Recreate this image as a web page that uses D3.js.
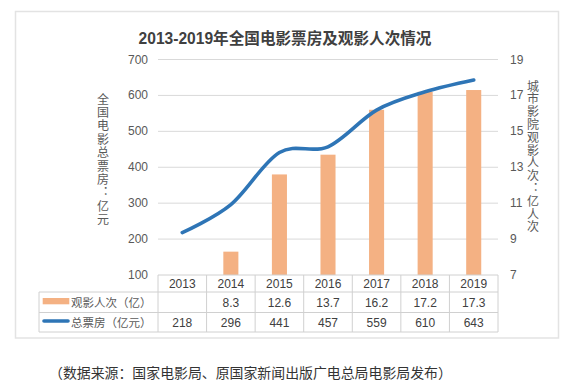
<!DOCTYPE html>
<html><head><meta charset="utf-8">
<script src="https://cdn.jsdelivr.net/npm/d3@7"></script>
<style>
html,body{margin:0;padding:0;background:#fff;}
svg{display:block;font-family:"Liberation Sans",Arial,"Noto Sans CJK SC",sans-serif;}
</style></head>
<body>
<svg id="c" width="575" height="388"></svg>
<script>
const title = "2013-2019年全国电影票房及观影人次情况";
const years = ["2013","2014","2015","2016","2017","2018","2019"];
const attendance = [null, 8.3, 12.6, 13.7, 16.2, 17.2, 17.3];   // 观影人次（亿）
const boxOffice = [218, 296, 441, 457, 559, 610, 643];          // 总票房（亿元）
const leftTicks = [100, 200, 300, 400, 500, 600, 700];
const rightTicks = [7, 9, 11, 13, 15, 17, 19];
const leftTitle = "全国电影总票房：亿元";
const rightTitle = "城市影院观影人次：亿人次";
const seriesNames = ["观影人次（亿）", "总票房（亿元）"];
const source = "（数据来源：国家电影局、原国家新闻出版广电总局电影局发布）";

const svg = d3.select("#c");
const X0 = 158, X1 = 498, YT = 59.5, YB = 275;
const rowY = [275, 292, 312.5, 332];
const tableLeft = 39;
const gridC = "#d9d9d9", textC = "#595959", darkC = "#404040";
const barC = "#F4B183", lineC = "#2E75B6";

// frame
svg.append("rect").attr("x", 15.5).attr("y", 11.5).attr("width", 543).attr("height", 326.5)
  .attr("fill", "#fff").attr("stroke", "#e3e3e3").attr("stroke-width", 1.5);

svg.append("text").attr("x", 285).attr("y", 38).attr("text-anchor", "middle")
  .attr("dominant-baseline", "central").attr("font-size", 15.6).attr("font-weight", "bold")
  .attr("fill", darkC).text(title);

const x = d3.scaleBand().domain(years).range([X0, X1]);
const xBar = d3.scaleBand().domain(years).range([X0, X1]).paddingInner(0.69).paddingOuter(0.345);
const yL = d3.scaleLinear().domain([100, 700]).range([YB, YT]);
const yR = d3.scaleLinear().domain([7, 19]).range([YB, YT]);

// gridlines
svg.append("g").selectAll("line").data(leftTicks.slice(1)).join("line")
  .attr("x1", X0).attr("x2", X1).attr("y1", d => yL(d)).attr("y2", d => yL(d))
  .attr("stroke", gridC).attr("stroke-width", 1);

// left axis labels
svg.append("g").selectAll("text").data(leftTicks).join("text")
  .attr("x", 148).attr("y", d => yL(d)).attr("text-anchor", "end").attr("dominant-baseline", "central")
  .attr("font-size", 12).attr("fill", textC).text(d => d);
// right axis labels
svg.append("g").selectAll("text").data(rightTicks).join("text")
  .attr("x", 510).attr("y", d => yR(d)).attr("text-anchor", "start").attr("dominant-baseline", "central")
  .attr("font-size", 12).attr("fill", textC).text(d => d);

// axis titles (vertical)
svg.append("text").attr("x", 103).attr("y", 93).style("writing-mode", "vertical-rl")
  .attr("font-size", 12).attr("letter-spacing", 1.4).attr("fill", textC)
  .attr("font-family", "'Noto Sans CJK SC',sans-serif").text(leftTitle);
svg.append("text").attr("x", 533).attr("y", 80).style("writing-mode", "vertical-rl")
  .attr("font-size", 12).attr("letter-spacing", 0.8).attr("fill", textC)
  .attr("font-family", "'Noto Sans CJK SC',sans-serif").text(rightTitle);

// bars
const barData = years.map((y, i) => ({y, v: attendance[i]})).filter(d => d.v != null);
svg.append("g").selectAll("rect").data(barData).join("rect")
  .attr("x", d => xBar(d.y)).attr("width", xBar.bandwidth())
  .attr("y", d => yR(d.v)).attr("height", d => yR(7) - yR(d.v)).attr("fill", barC);

// line
const line = d3.line().x((d, i) => x(years[i]) + x.bandwidth() / 2).y(d => yL(d))
  .curve(d3.curveCardinal.tension(0));
svg.append("path").datum(boxOffice).attr("d", line).attr("fill", "none")
  .attr("stroke", lineC).attr("stroke-width", 3.6).attr("stroke-linecap", "round");

// table
const tg = svg.append("g").attr("stroke", "#d0d0d0").attr("stroke-width", 1);
tg.append("line").attr("x1", X0).attr("x2", X1).attr("y1", rowY[0]).attr("y2", rowY[0]);
rowY.slice(1).forEach(yy => tg.append("line").attr("x1", tableLeft).attr("x2", X1).attr("y1", yy).attr("y2", yy));
tg.append("line").attr("x1", tableLeft).attr("x2", tableLeft).attr("y1", rowY[1]).attr("y2", rowY[3]);
const bounds = years.map(y => x(y)).concat([X1]);
tg.selectAll("line.v").data(bounds).join("line").attr("class", "v")
  .attr("x1", d => d).attr("x2", d => d).attr("y1", rowY[0]).attr("y2", rowY[3]);

const cx = y => x(y) + x.bandwidth() / 2;
const midRow = i => (rowY[i] + rowY[i + 1]) / 2 + 0.5;
svg.append("g").selectAll("text").data(years).join("text")
  .attr("x", cx).attr("y", midRow(0)).attr("text-anchor", "middle").attr("dominant-baseline", "central")
  .attr("font-size", 12).attr("fill", darkC).text(d => d);
svg.append("g").selectAll("text").data(barData).join("text")
  .attr("x", d => cx(d.y)).attr("y", midRow(1)).attr("text-anchor", "middle").attr("dominant-baseline", "central")
  .attr("font-size", 12).attr("fill", darkC).text(d => d.v);
svg.append("g").selectAll("text").data(boxOffice).join("text")
  .attr("x", (d, i) => cx(years[i])).attr("y", midRow(2)).attr("text-anchor", "middle").attr("dominant-baseline", "central")
  .attr("font-size", 12).attr("fill", darkC).text(d => d);

// legend in table
svg.append("rect").attr("x", 42.7).attr("y", 298).attr("width", 26.6).attr("height", 6.3).attr("fill", barC);
svg.append("line").attr("x1", 44).attr("x2", 68).attr("y1", 321).attr("y2", 321)
  .attr("stroke", lineC).attr("stroke-width", 3.6).attr("stroke-linecap", "round");
svg.append("g").selectAll("text").data(seriesNames).join("text")
  .attr("x", 71).attr("y", (d, i) => midRow(i + 1)).attr("dominant-baseline", "central")
  .attr("font-size", 11.5).attr("fill", textC).text(d => d);

// source
svg.append("text").attr("x", 49).attr("y", 373).attr("dominant-baseline", "central")
  .attr("font-size", 13.9).attr("fill", "#333").text(source);
</script>
</body></html>
